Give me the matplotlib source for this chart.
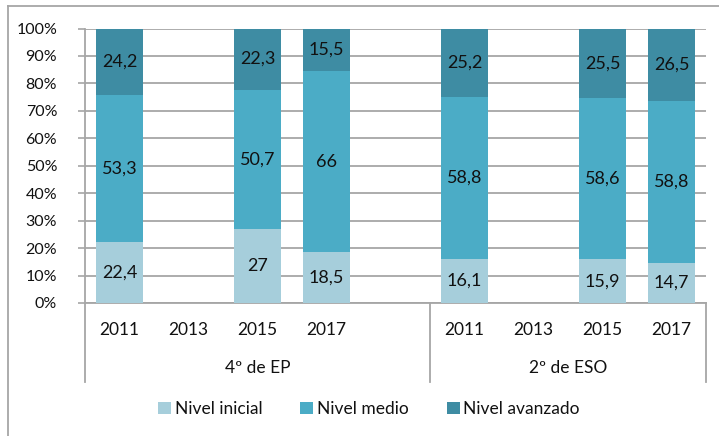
import matplotlib
matplotlib.use("Agg")
import matplotlib.pyplot as plt
import matplotlib.transforms as mtransforms
from matplotlib.patches import Patch
from matplotlib.lines import Line2D
import numpy as np

plt.rcParams['font.family'] = ['Lato', 'DejaVu Sans']

groups = ["4º de EP", "2º de ESO"]
years = ["2011", "2013", "2015", "2017"]
series = ["Nivel inicial", "Nivel medio", "Nivel avanzado"]
colors = ["#A6CEDB", "#4BACC6", "#3E8CA3"]

# values per group, per year (None = no data)
ep_inicial = [22.4, None, 27, 18.5]
ep_medio = [53.3, None, 50.7, 66]
ep_avanzado = [24.2, None, 22.3, 15.5]
eso_inicial = [16.1, None, 15.9, 14.7]
eso_medio = [58.8, None, 58.6, 58.8]
eso_avanzado = [25.2, None, 25.5, 26.5]

W, H = 719, 436
fig = plt.figure(figsize=(W / 100, H / 100), dpi=100)
ax = fig.add_axes([85 / W, 1 - 303 / H, (706 - 85) / W, (303 - 28.5) / H])

# category positions: group1 has 4 years + one blank slot, group2 4 years
pos_ep = [0, 1, 2, 3]
pos_eso = [5, 6, 7, 8]
data = [
    (pos_ep, [ep_inicial, ep_medio, ep_avanzado]),
    (pos_eso, [eso_inicial, eso_medio, eso_avanzado]),
]

txt_col = "#111111"
bw = 0.67
for positions, vals in data:
    for i, p in enumerate(positions):
        bottom = 0
        if vals[0][i] is None:
            continue
        for s in range(3):
            v = vals[s][i]
            ax.bar(p, v, bw, bottom=bottom, color=colors[s], zorder=3)
            lbl = ("%g" % v).replace(".", ",")
            ax.text(p, bottom + v / 2, lbl, ha="center", va="center",
                    fontsize=13, color=txt_col, zorder=4)
            bottom += v

ax.set_xlim(-0.5, 8.5)
ax.set_ylim(0, 100)
ax.set_yticks(np.arange(0, 101, 10))
ax.set_yticklabels(["%d%%" % t for t in range(0, 101, 10)], fontsize=11.5,
                   color=txt_col)
ax.yaxis.grid(True, color="#A6A6A6", linewidth=1.3, zorder=0)
ax.set_axisbelow(True)
ax.tick_params(axis="y", direction="out", length=5, color="#A6A6A6",
               width=1.2, pad=15)
ax.set_xticks([])
for side in ["top", "right"]:
    ax.spines[side].set_visible(False)
ax.spines["left"].set_color("#A6A6A6")
ax.spines["left"].set_linewidth(1.3)
ax.spines["bottom"].set_color("#A6A6A6")
ax.spines["bottom"].set_linewidth(1.3)

trans = mtransforms.blended_transform_factory(ax.transData, ax.transAxes)
ax_h = 303 - 28.5
ybot = -(382 - 303) / ax_h
for xsep in [-0.5, 4.5, 8.5]:
    ax.plot([xsep, xsep], [0, ybot], transform=trans, color="#A6A6A6",
            linewidth=1.3, clip_on=False)

y_year = -(330 - 303) / ax_h
y_group = -(368 - 303) / ax_h
for positions in [pos_ep, pos_eso]:
    for p, yr in zip(positions, years):
        ax.text(p, y_year, yr, transform=trans, ha="center", va="center",
                fontsize=12.5, color=txt_col)
ax.text(2.0, y_group, groups[0], transform=trans, ha="center", va="center",
        fontsize=12.5, color=txt_col)
ax.text(6.5, y_group, groups[1], transform=trans, ha="center", va="center",
        fontsize=12.5, color=txt_col)

handles = [Patch(facecolor=c, edgecolor="none") for c in colors]
fig.legend(handles, series, loc="center", bbox_to_anchor=(369 / W, 1 - 409 / H),
           ncol=3, frameon=False, fontsize=12.5, handlelength=0.75,
           handleheight=0.75, handletextpad=0.2, columnspacing=2.2,
           labelcolor=txt_col)

# outer chart frame: only left and top edges are visible in the crop
fig.add_artist(Line2D([7.5 / W, 7.5 / W], [0, 1 - 6 / H],
                      transform=fig.transFigure, color="#A6A6A6", linewidth=1.3))
fig.add_artist(Line2D([7.5 / W, 1], [1 - 6 / H, 1 - 6 / H],
                      transform=fig.transFigure, color="#A6A6A6", linewidth=1.3))

fig.savefig("out.png", dpi=100)
